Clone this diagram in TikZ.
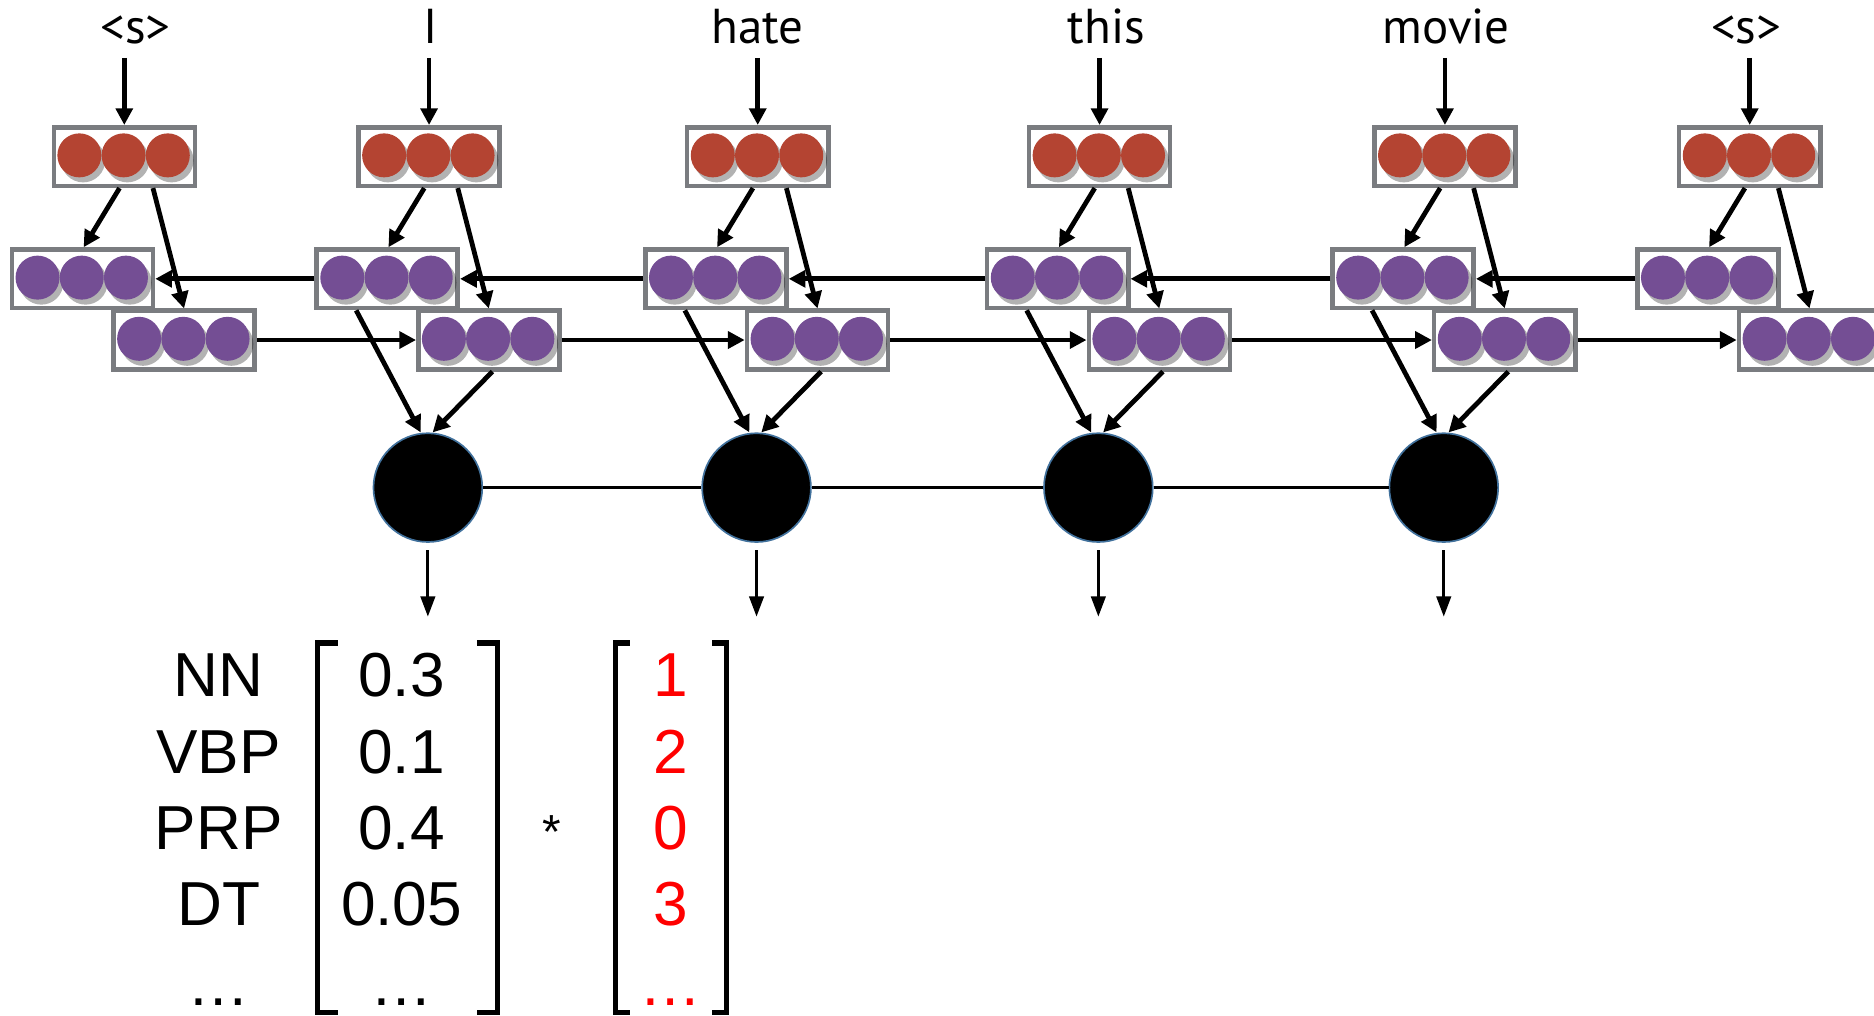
\documentclass[tikz,border=0pt]{standalone}
\usepackage{fontspec}
\setmainfont{Liberation Sans}
\newfontfamily\wordfont{PT Sans}
\usetikzlibrary{arrows.meta}
\definecolor{redc}{HTML}{B44432}
\definecolor{purc}{HTML}{744E94}
\definecolor{boxgray}{HTML}{7A7C80}
\definecolor{ringblue}{HTML}{41719C}
\newcommand\vecnode[4]{%
  \node[vbox] (#1) at (#2,#3) {};
  \foreach \dx in {-37,0,37} {
    \fill[black, opacity=0.3] ([xshift=\dx*0.5pt+1.3pt, yshift=-1.6pt]#1.center) circle[radius=9.2pt];
    \fill[#4] ([xshift=\dx*0.5pt-0.3pt, yshift=0.5pt]#1.center) circle[radius=9.2pt];
  }%
}
\begin{document}
\begin{tikzpicture}[x=0.5pt,y=-0.5pt,
  vbox/.style={draw=boxgray, line width=1.9pt, fill=white, minimum width=59pt, minimum height=24.5pt, inner sep=0pt},
  word/.style={font=\wordfont\fontsize{20.5}{23}\selectfont, anchor=base, text depth=0pt, inner xsep=0pt, inner ysep=6pt},
  arr/.style={line width=2pt, -{Triangle[length=7pt,width=7pt]}},
  outarr/.style={line width=1.3pt, -{Triangle[length=8.5pt,width=6pt]}},
  link/.style={line width=1.3pt},
  blob/.style={circle, fill=black, draw=ringblue, line width=0.7pt, minimum size=45.5pt, inner sep=0pt},
  mtext/.style={font=\fontsize{26}{30}\selectfont, anchor=base, inner sep=0pt},
  brk/.style={line width=2.1pt, line cap=butt, line join=miter}
]
\fill[white] (0,0) rectangle (1568,850);
\useasboundingbox (0,0) rectangle (1568,850);
\clip (0,0) rectangle (1568,850);

% columns
\foreach \i/\x/\wx/\wt in {1/104/113.5/{<s>}, 2/359/360/I, 3/634/634/hate, 4/920/925.6/this, 5/1209/1210/movie, 6/1464/1461/{<s>}} {
  \node[word] (w\i) at (\wx,36) {\wt};
  \vecnode{e\i}{\x}{131}{redc}
  \vecnode{b\i}{\x-35}{233.3}{purc}
  \vecnode{f\i}{\x+50}{284.5}{purc}
}

% vertical / diagonal arrows in each column
\foreach \i in {1,...,6} {
  \draw[arr] (w\i.south -| e\i.north) -- (e\i.north);
  \draw[arr] ([xshift=-2pt]e\i.south) -- ([xshift=0.5pt]b\i.north);
  \draw[arr] ([xshift=12pt]e\i.south) -- (f\i.north);
}

% recurrent arrows
\foreach \i [evaluate=\i as \j using int(\i+1)] in {1,...,5} {
  \draw[arr] (b\j.west) -- (b\i.east);
  \draw[arr] (f\i.east) -- (f\j.west);
}

% black nodes
\foreach \k/\x in {2/358, 3/633, 4/919, 5/1208} {
  \node[blob] (c\k) at (\x,408) {};
  \coordinate (o\k) at (\x,516);
}
\draw[link] (c2.east) -- (c3.west);
\draw[link] (c3.east) -- (c4.west);
\draw[link] (c4.east) -- (c5.west);
\foreach \k in {2,...,5} {
  \draw[arr] ([xshift=-13pt]b\k.south) -- ([xshift=-3pt]c\k.north);
  \draw[arr] ([xshift=1.5pt]f\k.south) -- ([xshift=2pt]c\k.north);
  \draw[outarr] ([yshift=-3pt]c\k.south) -- (o\k);
}

% bottom: distribution times vector
\foreach \n/\y/\lab/\val/\rv in {1/583/NN/0.3/1, 2/647/VBP/0.1/2, 3/710.5/PRP/0.4/0, 4/774/DT/0.05/3, 5/841/{…}/{…}/{…}} {
  \node[mtext] (l\n) at (183,\y) {\lab};
  \node[mtext] (v\n) at (336,\y) {\val};
  \node[mtext, text=red] (r\n) at (561,\y) {\rv};
}
\node[font=\fontsize{20}{24}\selectfont, inner sep=0pt] (star) at (462,696) {*};
\draw[brk] (282.5,538) -- (265.5,538) -- (265.5,847) -- (282.5,847);
\draw[brk] (399,538) -- (416,538) -- (416,847) -- (399,847);
\draw[brk] (527,538) -- (515,538) -- (515,847) -- (527,847);
\draw[brk] (596,538) -- (608,538) -- (608,847) -- (596,847);
\end{tikzpicture}
\end{document}
